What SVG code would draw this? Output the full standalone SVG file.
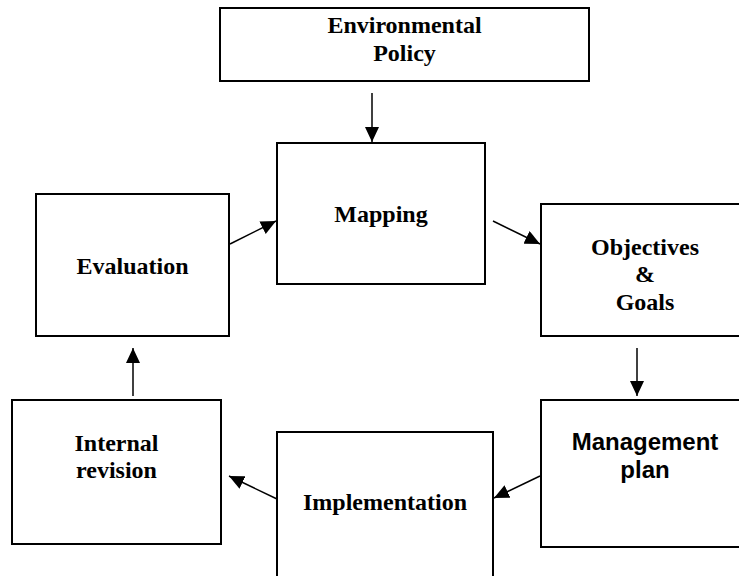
<svg xmlns="http://www.w3.org/2000/svg" width="739" height="576" viewBox="0 0 739 576">
<style>
.box{fill:#fff;stroke:#000;stroke-width:2}
.t{font-family:"Liberation Serif","Times New Roman",serif;font-weight:bold;font-size:24px;text-anchor:middle;fill:#000}
.s{font-family:"Liberation Sans",Arial,sans-serif;font-weight:bold;font-size:24px;text-anchor:middle;fill:#000}
.c{stroke:#000;stroke-width:1.5;fill:none;marker-end:url(#ah)}
</style>
<defs>
<marker id="ah" viewBox="0 0 15 14" refX="15" refY="7" markerWidth="15" markerHeight="14" markerUnits="userSpaceOnUse" orient="auto">
<path d="M0,0 L15,7 L0,14 z" fill="#000"/>
</marker>
</defs>
<rect width="739" height="576" fill="#fff"/>
<g id="env-policy">
<rect class="box" x="220" y="8" width="369" height="73"/>
<text class="t" x="404.5" y="33">Environmental</text>
<text class="t" x="404.5" y="61">Policy</text>
</g>
<g id="mapping">
<rect class="box" x="277" y="143" width="208" height="141"/>
<text class="t" x="381" y="222">Mapping</text>
</g>
<g id="evaluation">
<rect class="box" x="36" y="194" width="193" height="142"/>
<text class="t" x="132.5" y="274">Evaluation</text>
</g>
<g id="objectives">
<rect class="box" x="541" y="204" width="208" height="132"/>
<text class="t" x="645" y="255">Objectives</text>
<text class="t" x="645" y="282">&amp;</text>
<text class="t" x="645" y="310">Goals</text>
</g>
<g id="management">
<rect class="box" x="541" y="400" width="208" height="147"/>
<text class="s" x="645" y="450">Management</text>
<text class="s" x="645" y="478">plan</text>
</g>
<g id="implementation">
<rect class="box" x="277" y="432" width="216" height="160"/>
<text class="t" x="385" y="510">Implementation</text>
</g>
<g id="internal-revision">
<rect class="box" x="12" y="400" width="209" height="144"/>
<text class="t" x="116.5" y="451">Internal</text>
<text class="t" x="116.5" y="478">revision</text>
</g>
<g id="connectors">
<line class="c" x1="372" y1="93" x2="372" y2="142"/>
<line class="c" x1="230" y1="244" x2="276" y2="221"/>
<line class="c" x1="493" y1="221" x2="540" y2="244"/>
<line class="c" x1="637" y1="348" x2="637" y2="396"/>
<line class="c" x1="540" y1="476" x2="494" y2="498"/>
<line class="c" x1="277" y1="499" x2="229" y2="476"/>
<line class="c" x1="133" y1="396" x2="133" y2="348"/>
</g>
</svg>
